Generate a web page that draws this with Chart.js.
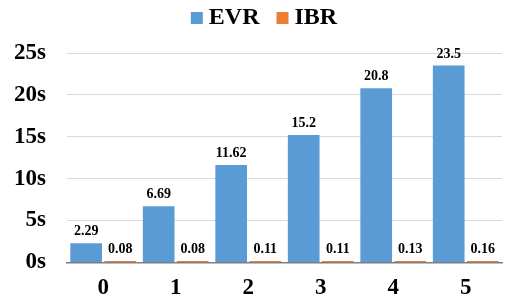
<!DOCTYPE html>
<html>
<head>
<meta charset="utf-8">
<script src="https://cdn.jsdelivr.net/npm/chart.js@4"></script>
<style>
  html, body { margin: 0; padding: 0; background: #fff; }
  #wrap { width: 505px; height: 303px; }
</style>
</head>
<body>
<div id="wrap"><canvas id="myChart"></canvas></div>
<script>
const categories = ["0", "1", "2", "3", "4", "5"];
const evrValues = [2.29, 6.69, 11.62, 15.2, 20.8, 23.5];
const ibrValues = [0.08, 0.08, 0.11, 0.11, 0.13, 0.16];
const evrLabels = ["2.29", "6.69", "11.62", "15.2", "20.8", "23.5"];
const ibrLabels = ["0.08", "0.08", "0.11", "0.11", "0.13", "0.16"];

const serif = "'Liberation Serif', 'Times New Roman', serif";

// draw value labels above each bar
const valueLabels = {
  id: "valueLabels",
  afterDatasetsDraw(chart) {
    const ctx = chart.ctx;
    const texts = [evrLabels, ibrLabels];
    ctx.save();
    ctx.font = "bold 14px " + serif;
    ctx.fillStyle = "#000";
    ctx.textAlign = "center";
    ctx.textBaseline = "alphabetic";
    chart.data.datasets.forEach((ds, i) => {
      chart.getDatasetMeta(i).data.forEach((bar, j) => {
        ctx.fillText(texts[i][j], bar.x, bar.y - 8);
      });
    });
    ctx.restore();
  },
};

// simple legend drawn on top, closer spacing than the built-in one
const topLegend = {
  id: "topLegend",
  afterDraw(chart) {
    const ctx = chart.ctx;
    ctx.save();
    ctx.font = "bold 24px " + serif;
    ctx.textBaseline = "alphabetic";
    ctx.textAlign = "left";
    const box = 12, gap = 6, itemGap = 17;
    const items = chart.data.datasets.map((ds) => ({
      text: ds.label,
      color: ds.backgroundColor,
      w: box + gap + ctx.measureText(ds.label).width,
    }));
    const total = items.reduce((s, it) => s + it.w, 0) + itemGap * (items.length - 1);
    let x = 264 - total / 2;
    items.forEach((it) => {
      ctx.fillStyle = it.color;
      ctx.fillRect(x, 12, box, box);
      ctx.fillStyle = "#000";
      ctx.fillText(it.text, x + box + gap, 24);
      x += it.w + itemGap;
    });
    ctx.restore();
  },
};

let ctx = document.getElementById("myChart").getContext("2d");
let myChart = new Chart(ctx, {
  type: "bar",
  data: {
    labels: categories,
    datasets: [
      {
        label: "EVR",
        data: evrValues,
        backgroundColor: "#5B9BD5",
        barPercentage: 0.93,
        categoryPercentage: 0.94,
      },
      {
        label: "IBR",
        data: ibrValues,
        backgroundColor: "#ED7D31",
        barPercentage: 0.93,
        categoryPercentage: 0.94,
        minBarLength: 1.5,
      },
    ],
  },
  options: {
    responsive: true,
    maintainAspectRatio: false,
    animation: false,
    layout: { padding: { left: 14, right: 3, top: 53, bottom: 1 } },
    plugins: {
      tooltip: { enabled: false },
      legend: { display: false },
    },
    scales: {
      x: {
        grid: { display: false, drawTicks: false },
        border: { color: "#7f7f7f", width: 1.5 },
        ticks: {
          color: "#000",
          padding: 12,
          font: { family: serif, size: 23, weight: "bold" },
        },
        afterFit: (s) => { s.height -= 12; },
      },
      y: {
        min: 0,
        max: 25,
        ticks: {
          stepSize: 5,
          color: "#000",
          padding: 21,
          font: { family: serif, size: 23, weight: "bold" },
          callback: (v) => v + "s",
        },
        grid: { color: "#d9d9d9", drawTicks: false },
        border: { display: false },
        afterFit: (s) => { s.width -= 21; },
      },
    },
  },
  plugins: [valueLabels, topLegend],
});
</script>
</body>
</html>
